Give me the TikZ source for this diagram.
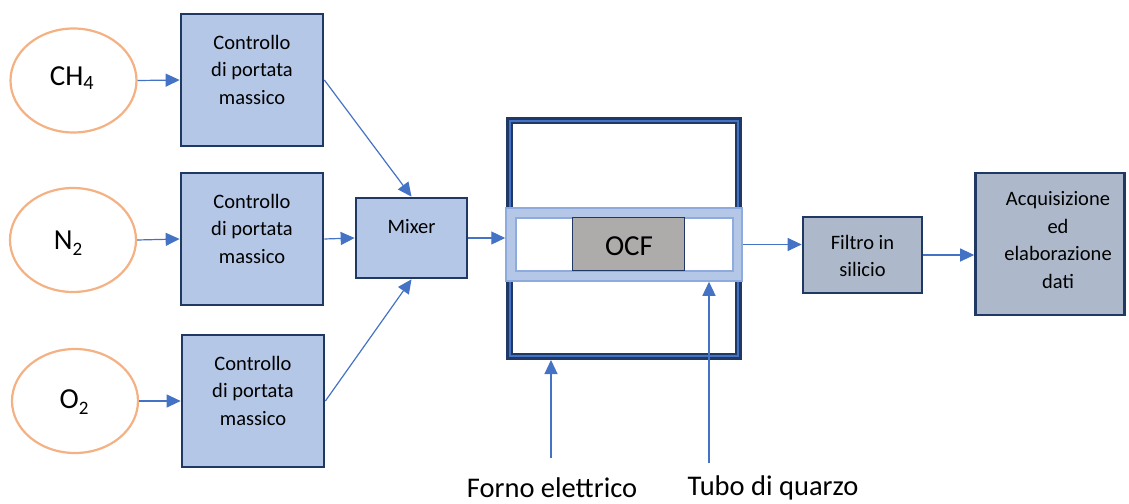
\documentclass[tikz,border=0pt]{standalone}
\usepackage{fontspec}
\setmainfont{Carlito}
\usetikzlibrary{shapes.geometric,arrows.meta}
\definecolor{navy}{HTML}{1F3864}
\definecolor{boxblue}{HTML}{B4C7E7}
\definecolor{arrblue}{HTML}{4472C4}
\definecolor{orng}{HTML}{F4B183}
\definecolor{gryblue}{HTML}{ADB9CA}
\definecolor{ocfgray}{HTML}{AEABAB}
\definecolor{tubeedge}{HTML}{8FAADC}
\newcommand{\lowsub}[1]{\raisebox{-6pt}{\fontsize{19}{19}\selectfont #1}}
\tikzset{
  gasnode/.style={ellipse,draw=orng,line width=2.2pt,fill=white,minimum width=126,minimum height=104,inner sep=0pt},
  ctrlbox/.style={rectangle,draw=navy,line width=2.7pt,fill=boxblue,minimum width=142,minimum height=132,inner sep=0pt},
  graybox/.style={rectangle,draw=navy,line width=2.7pt,fill=gryblue,inner sep=0pt},
  boxtxt/.style={align=center,font=\fontsize{20.5}{27.5}\selectfont,inner sep=0pt},
  gastxt/.style={font=\fontsize{29}{34}\selectfont,inner sep=0pt},
  lbltxt/.style={font=\fontsize{28.5}{34}\selectfont,inner sep=0pt},
  arr/.style={draw=arrblue,line width=1.2pt,-{Triangle[length=14pt,width=13pt]}},
  ln/.style={draw=arrblue,line width=1.2pt}
}
\begin{document}
\begin{tikzpicture}[x=1pt,y=-1pt]
\useasboundingbox (0,0) rectangle (1129,503);
% gases
\node[gasnode] (e1) at (73.5,80.5) {};
\node[gastxt] (t1) at (72,78) {CH\textsubscript{4}};
\node[gasnode] (e2) at (73,240) {};
\node[gastxt] (t2) at (68,243) {N\lowsub{2}};
\node[gasnode] (e3) at (75,401) {};
\node[gastxt] (t3) at (74,402) {O\lowsub{2}};
% flow controllers
\node[ctrlbox] (b1) at (252,80) {};
\node[boxtxt] (c1) at (252,69.5) {Controllo\\di portata\\massico};
\node[ctrlbox] (b2) at (252,239) {};
\node[boxtxt] (c2) at (252,228.5) {Controllo\\di portata\\massico};
\node[ctrlbox] (b3) at (253,401) {};
\node[boxtxt] (c3) at (253,390.5) {Controllo\\di portata\\massico};
% mixer
\node[rectangle,draw=navy,line width=2.7pt,fill=boxblue,minimum width=111,minimum height=80,inner sep=0pt] (mix) at (411.5,238) {};
\node[boxtxt] (mt) at (411.5,227) {Mixer};
% furnace
\node[rectangle,draw=navy,line width=6.7pt,fill=white,minimum width=229.3,minimum height=236.3,inner sep=0pt] (furn) at (624,238.5) {};
\node[rectangle,draw=arrblue,line width=1.4pt,minimum width=228,minimum height=235,inner sep=0pt] (furn2) at (624,238.5) {};
% quartz tube
\node[rectangle,draw=tubeedge,line width=1.5pt,fill=boxblue,minimum width=236,minimum height=73,inner sep=0pt] (tube) at (624,244.5) {};
\node[rectangle,draw=tubeedge,line width=2pt,fill=white,minimum width=217,minimum height=53,inner sep=0pt] (tubein) at (624.5,244.5) {};
\node[rectangle,draw=navy,line width=0.8pt,fill=ocfgray,minimum width=112,minimum height=53,inner sep=0pt] (ocf) at (628,243.5) {};
\node[gastxt] (ocft) at (629,246) {OCF};
% filter and data
\node[graybox,minimum width=119,minimum height=76] (filt) at (862.5,255) {};
\node[boxtxt] (ft) at (862.5,256) {Filtro in\\silicio};
\node[graybox,minimum width=149,minimum height=142] (acq) at (1050,244) {};
\node[boxtxt] (at) at (1058,240) {Acquisizione\\ed\\elaborazione\\dati};
% connectors
\draw[arr] (e1.east) -- (b1.west);
\draw[arr] (e2.east) -- (b2.west);
\draw[arr] (e3.east) -- (b3.west);
\draw[arr] (b1.east) -- (mix.north);
\draw[arr] (b2.east) -- (mix.west);
\draw[arr] (b3.east) -- (mix.south);
\draw[arr] (mix.east) -- (mix.east -| tube.west);
\draw[arr] (tube.east) -- (tube.east -| filt.west);
\draw[arr] (filt.east) -- (filt.east -| acq.west);
\coordinate (fb) at (551,458);
\coordinate (tb) at (709,463);
\draw[arr] (fb) -- (fb |- furn.south);
\draw[arr] (tb) -- (tb |- tube.south);
% labels
\node[lbltxt] (l1) at (552,488) {Forno elettrico};
\node[lbltxt] (l2) at (773,488) {Tubo di quarzo};
\end{tikzpicture}
\end{document}
